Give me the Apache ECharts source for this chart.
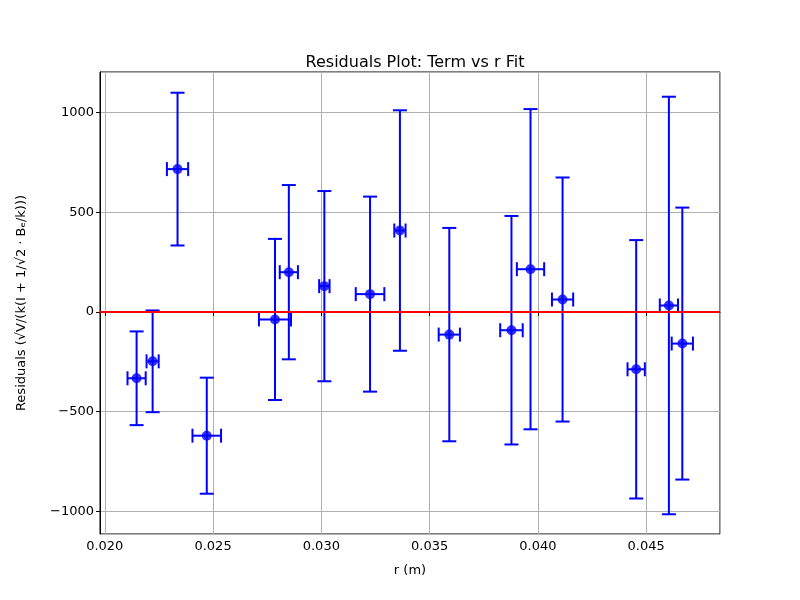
<!DOCTYPE html>
<html>
<head>
<meta charset="utf-8">
<script src="https://cdn.jsdelivr.net/npm/echarts@6/dist/echarts.min.js"></script>
<style>html,body{margin:0;padding:0;background:#fff;}#chart{width:800px;height:600px;}</style>
</head>
<body>
<div id="chart"></div>
<script>
const rValues = [0.02147, 0.02221, 0.02336, 0.02471, 0.02786, 0.02850, 0.03014, 0.03225, 0.03363, 0.03591, 0.03878, 0.03966, 0.04114, 0.04454, 0.04605, 0.04667];
const residuals = [-333, -248, 716, -621, -38, 199, 129, 89, 408, -114, -92, 214, 62, -288, 32, -159];
const rErrors = [0.00042, 0.00028, 0.00049, 0.00066, 0.00074, 0.00042, 0.00024, 0.00066, 0.00026, 0.00049, 0.00052, 0.00063, 0.00049, 0.00040, 0.00042, 0.00049];
const residualErrors = [235, 255, 383, 291, 404, 437, 477, 489, 603, 535, 573, 803, 612, 648, 1047, 682];

const chart = echarts.init(document.getElementById('chart'));
const FONT = 'DejaVu Sans';
const BLUE = '#0000ff';
const errData = rValues.map((v, i) => [v, residuals[i], rErrors[i], residualErrors[i]]);
const ptData = rValues.map((v, i) => [v, residuals[i]]);

const option = {
  backgroundColor: '#fff',
  animation: false,
  title: {
    text: 'Residuals Plot: Term vs r Fit',
    left: 410, top: 50, textAlign: 'center',
    textStyle: {fontFamily: FONT, fontSize: 16, fontWeight: 'normal', color: '#000'}
  },
  grid: {left: 100, right: 80, top: 72, bottom: 66, show: true, borderColor: '#000', borderWidth: 1, backgroundColor: 'transparent'},
  xAxis: {
    type: 'value', min: 0.01978, max: 0.04841,
    name: 'r (m)', nameLocation: 'middle', nameGap: 30,
    nameTextStyle: {fontFamily: FONT, fontSize: 13, color: '#000'},
    axisLine: {show: true, lineStyle: {color: '#000', width: 1}},
    axisTick: {show: true, inside: false, length: 4, lineStyle: {color: '#000'}},
    axisLabel: {fontFamily: FONT, fontSize: 13, color: '#000', showMinLabel: false, showMaxLabel: false, margin: 6,
      formatter: v => v.toFixed(3)},
    splitLine: {show: true, lineStyle: {color: '#b0b0b0', width: 1}}
  },
  yAxis: {
    type: 'value', min: -1114, max: 1203,
    name: 'Residuals (√V/(k(I + 1/√2 · Bₑ/k)))', nameLocation: 'middle', nameGap: 72, nameRotate: 90,
    nameTextStyle: {fontFamily: FONT, fontSize: 13, color: '#000'},
    axisLine: {show: true, lineStyle: {color: '#000', width: 1}},
    axisTick: {show: true, inside: false, length: 4, lineStyle: {color: '#000'}},
    axisLabel: {fontFamily: FONT, fontSize: 13, color: '#000', showMinLabel: false, showMaxLabel: false, margin: 6,
      formatter: v => String(v).replace('-', '\u2212')},
    splitLine: {show: true, lineStyle: {color: '#b0b0b0', width: 1}}
  },
  series: [
    {
      type: 'custom', z: 3,
      data: errData,
      encode: {x: 0, y: 1},
      renderItem: function (params, api) {
        const x = api.value(0), y = api.value(1), xe = api.value(2), ye = api.value(3);
        const top = api.coord([x, y + ye]);
        const bot = api.coord([x, y - ye]);
        const lft = api.coord([x - xe, y]);
        const rgt = api.coord([x + xe, y]);
        const cap = 7;
        const st = {stroke: BLUE, lineWidth: 2, fill: null};
        const ln = (x1, y1, x2, y2) => ({type: 'line', shape: {x1, y1, x2, y2}, style: st});
        return {type: 'group', children: [
          ln(top[0], top[1], bot[0], bot[1]),
          ln(top[0] - cap, top[1], top[0] + cap, top[1]),
          ln(bot[0] - cap, bot[1], bot[0] + cap, bot[1]),
          ln(lft[0], lft[1], rgt[0], rgt[1]),
          ln(lft[0], lft[1] - cap, lft[0], lft[1] + cap),
          ln(rgt[0], rgt[1] - cap, rgt[0], rgt[1] + cap)
        ]};
      }
    },
    {
      type: 'scatter', z: 4,
      data: ptData,
      symbol: 'circle', symbolSize: 10,
      itemStyle: {color: BLUE},
      markLine: {
        silent: true, symbol: ['none', 'none'], label: {show: false},
        lineStyle: {color: '#ff0000', width: 2, type: 'solid'},
        data: [{yAxis: 0}]
      }
    }
  ]
};
chart.setOption(option);
</script>
</body>
</html>
